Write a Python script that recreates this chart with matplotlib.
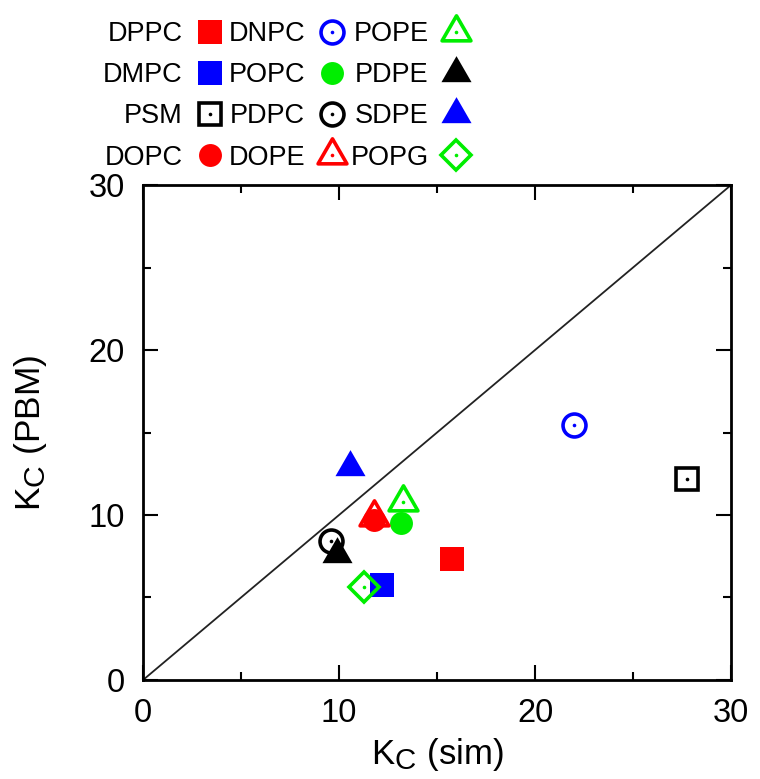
import matplotlib
matplotlib.use("Agg")
import matplotlib.pyplot as plt
import matplotlib._mathtext as _mt
from matplotlib.path import Path
from matplotlib.legend_handler import HandlerTuple

_mt.SHRINK_FACTOR = 0.85  # larger subscript, like the reference

plt.rcParams['font.family'] = ['Liberation Sans', 'DejaVu Sans']
plt.rcParams['mathtext.fontset'] = 'custom'
plt.rcParams['mathtext.rm'] = 'Liberation Sans'
plt.rcParams['mathtext.it'] = 'Liberation Sans:italic'

# ---- data ----
lipids = ["DPPC", "DMPC", "PSM", "DOPC", "DNPC", "POPC",
          "PDPC", "DOPE", "POPE", "PDPE", "SDPE", "POPG"]
kc_sim = [15.78, 12.18, 27.77, 11.79, 21.97, 13.15,
          9.57, 11.79, 13.28, 9.88, 10.56, 11.29]
kc_pbm = [7.33, 5.76, 12.2, 9.7, 15.44, 9.5,
          8.44, 9.9, 10.77, 7.64, 12.93, 5.65]
colors = ["#ff0000", "#0000ff", "#000000", "#ff0000", "#0000ff", "#00ee00",
          "#000000", "#ff0000", "#00ee00", "#000000", "#0000ff", "#00ee00"]
shapes = ["square", "square", "square", "circle", "circle", "circle",
          "circle", "triangle", "triangle", "triangle", "triangle", "diamond"]
filled = [True, True, False, True, False, True,
          False, False, False, True, True, False]
ticks = [0, 10, 20, 30]
minor_ticks = [5, 15, 25]

# ---- marker styles ----
tri = Path([(-1, -0.57735), (1, -0.57735), (0, 1.1547), (-1, -0.57735)],
           [Path.MOVETO, Path.LINETO, Path.LINETO, Path.CLOSEPOLY])
marker_of = {"square": "s", "circle": "o", "triangle": tri, "diamond": "D"}
size_filled = {"square": 17, "circle": 16.5, "triangle": 25, "diamond": 16}
size_open = {"square": 15.5, "circle": 16.5, "triangle": 24, "diamond": 15.5}

fig = plt.figure(figsize=(7.6, 7.79), dpi=100)
ax = fig.add_axes([0.1882, 0.1271, 0.7737, 0.6354])

ax.plot([0, 30], [0, 30], color="#222222", lw=1.3, zorder=1)

handles = []
for name, x, y, c, sh, f in zip(lipids, kc_sim, kc_pbm, colors, shapes, filled):
    m = marker_of[sh]
    if f:
        ln, = ax.plot([x], [y], linestyle="none", marker=m, ms=size_filled[sh],
                      color=c, mec=c, mew=0, zorder=3)
        handles.append(ln)
    else:
        ln, = ax.plot([x], [y], linestyle="none", marker=m, ms=size_open[sh],
                      mfc="none", mec=c, mew=2.6, zorder=3)
        dot, = ax.plot([x], [y], linestyle="none", marker="o", ms=2.6,
                       color=c, mew=0, zorder=3)
        handles.append((ln, dot))

ax.set_xlim(0, 30)
ax.set_ylim(0, 30)
ax.set_xticks(ticks)
ax.set_yticks(ticks)
ax.set_xticks(minor_ticks, minor=True)
ax.set_yticks(minor_ticks, minor=True)
ax.tick_params(which="both", direction="in", top=True, right=True,
               labelsize=23.5, pad=13)
ax.tick_params(which="major", length=11, width=1.5)
ax.tick_params(which="minor", length=5.5, width=1.5)
for s in ax.spines.values():
    s.set_linewidth(2.0)

ax.set_xlabel(r"K$_\mathrm{C}$ (sim)", fontsize=25)
ax.set_ylabel(r"K$_\mathrm{C}$ (PBM)", fontsize=25.5)
ax.xaxis.set_label_coords(0.5, -0.113)
ax.yaxis.set_label_coords(-0.16, 0.5)

fig.legend(handles, lipids, loc="upper left", bbox_to_anchor=(0.1357, 0.973),
           ncol=3, markerfirst=False, frameon=False,
           prop={"size": 19.5},
           handlelength=0.9, handletextpad=0.55, columnspacing=0.23,
           labelspacing=0.56, borderpad=0, borderaxespad=0,
           handler_map={tuple: HandlerTuple(ndivide=1, pad=0)})

fig.savefig("out.png", dpi=100)
